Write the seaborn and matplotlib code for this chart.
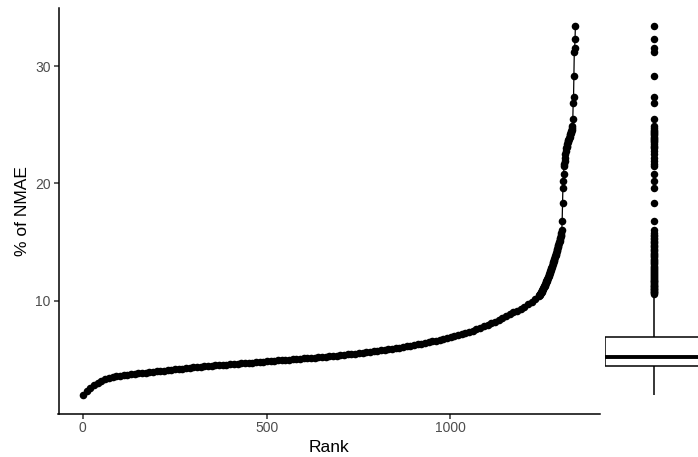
import numpy as np
import pandas as pd
import matplotlib
matplotlib.use("Agg")
import matplotlib.pyplot as plt
import seaborn as sns

# ---- data ----
# bulk of the ranked curve: one reading every 10 ranks (ranks 1, 11, ..., 1231)
bulk_first_rank = 1
bulk_step = 10
bulk_values = [
    1.93, 2.30, 2.55, 2.78, 2.98, 3.15, 3.30, 3.42, 3.50, 3.56,
    3.61, 3.65, 3.69, 3.72, 3.76, 3.80, 3.83, 3.87, 3.90, 3.94,
    3.97, 4.00, 4.04, 4.07, 4.11, 4.14, 4.17, 4.21, 4.24, 4.27,
    4.30, 4.33, 4.37, 4.40, 4.42, 4.45, 4.47, 4.50, 4.52, 4.55,
    4.57, 4.60, 4.62, 4.65, 4.67, 4.70, 4.72, 4.75, 4.77, 4.80,
    4.82, 4.85, 4.87, 4.90, 4.92, 4.95, 4.97, 5.00, 5.02, 5.05,
    5.07, 5.10, 5.12, 5.15, 5.17, 5.20, 5.22, 5.25, 5.28, 5.31,
    5.34, 5.37, 5.41, 5.45, 5.49, 5.53, 5.57, 5.61, 5.65, 5.69,
    5.73, 5.77, 5.82, 5.86, 5.91, 5.95, 6.00, 6.05, 6.10, 6.15,
    6.21, 6.27, 6.33, 6.39, 6.46, 6.53, 6.60, 6.67, 6.74, 6.81,
    6.88, 6.96, 7.05, 7.14, 7.24, 7.34, 7.45, 7.56, 7.68, 7.80,
    7.93, 8.07, 8.21, 8.36, 8.52, 8.68, 8.84, 9.00, 9.15, 9.32,
    9.50, 9.70, 9.92, 10.16,
]
# upper tail: every single observation (ranks 1241 ... 1340)
tail_first_rank = 1241
tail_values = [
    10.40, 10.45, 10.50, 10.56, 10.61, 10.67, 10.72, 10.78, 10.84, 10.90,
    10.96, 11.02, 11.09, 11.15, 11.22, 11.29, 11.36, 11.43, 11.50, 11.57,
    11.65, 11.72, 11.80, 11.88, 11.95, 12.03, 12.12, 12.20, 12.28, 12.37,
    12.45, 12.54, 12.63, 12.72, 12.81, 12.90, 13.00, 13.09, 13.19, 13.29,
    13.38, 13.48, 13.58, 13.69, 13.79, 13.90, 14.00, 14.11, 14.22, 14.33,
    14.44, 14.55, 14.66, 14.78, 14.89, 15.01, 15.13, 15.25, 15.37, 15.49,
    15.61, 15.74,
    16.0, 16.8, 18.3, 19.6, 20.2, 20.8,
    21.5, 21.7, 21.9, 22.2, 22.5, 22.8,
    23.0, 23.1, 23.2, 23.35, 23.5, 23.6, 23.7, 23.8, 23.9, 24.0,
    24.1, 24.2, 24.3, 24.4, 24.5, 24.6, 24.75, 24.9,
    25.5, 26.9, 27.4, 29.2, 31.2, 31.6, 32.3, 33.4,
]
x_ticks = [0, 500, 1000]
y_ticks = [10, 20, 30]
x_label = "Rank"
y_label = "% of NMAE"

# ---- assemble ----
bulk_ranks = bulk_first_rank + bulk_step * np.arange(len(bulk_values))
tail_ranks = tail_first_rank + np.arange(len(tail_values))
df = pd.DataFrame({
    "rank": np.concatenate([bulk_ranks, tail_ranks]),
    "nmae": np.concatenate([bulk_values, tail_values]),
})
# each bulk reading stands for bulk_step observations in the distribution
counts = np.concatenate([np.full(len(bulk_values), bulk_step), np.ones(len(tail_values), int)])
dist = pd.DataFrame({"nmae": np.repeat(df["nmae"].to_numpy(), counts)})

sns.set_theme(style="white")
plt.rcParams["font.family"] = ["Liberation Sans", "DejaVu Sans"]

W, H = 698, 457
fig = plt.figure(figsize=(W / 100, H / 100), dpi=100)
ax_l, ax_r, ax_t, ax_b = 58.5, 600, 8, 413.7
ax = fig.add_axes([ax_l / W, (H - ax_b) / H, (ax_r - ax_l) / W, (ax_b - ax_t) / H])
axb = fig.add_axes([605 / W, (H - ax_b) / H, 93 / W, (ax_b - ax_t) / H])

sns.lineplot(data=df, x="rank", y="nmae", color="black", linewidth=0.9,
             estimator=None, ax=ax)
sns.scatterplot(data=df, x="rank", y="nmae", color="black", s=30,
                linewidth=0, ax=ax, zorder=3)

n_max = df["rank"].max()
xr = n_max - 1
ax.set_xlim(1 - 0.05 * xr, n_max + 0.05 * xr)
ymin, ymax = df["nmae"].min(), df["nmae"].max()
yr = ymax - ymin
ylim = (ymin - 0.05 * yr, ymax + 0.05 * yr)
ax.set_ylim(*ylim)
ax.set_xticks(x_ticks)
ax.set_yticks(y_ticks)
ax.set_xlabel(x_label, fontsize=12.5, color="black", labelpad=3)
ax.set_ylabel(y_label, fontsize=12.5, color="black", labelpad=4)
for s in ["top", "right"]:
    ax.spines[s].set_visible(False)
for s in ["left", "bottom"]:
    ax.spines[s].set_color("black")
    ax.spines[s].set_linewidth(1.1)
ax.tick_params(axis="both", which="major", length=3.4, width=1.1, color="#333333",
               labelsize=10, labelcolor="#4d4d4d", pad=2.2, bottom=True, left=True)

sns.boxplot(data=dist, y="nmae", ax=axb, color="white", linecolor="black",
            linewidth=1.1, width=1.0, showcaps=False, whis=1.5,
            medianprops={"linewidth": 2.8, "color": "black"},
            flierprops={"marker": "o", "markerfacecolor": "black",
                        "markeredgecolor": "black", "markersize": 5.4,
                        "markeredgewidth": 0})
axb.set_ylim(*ylim)
axb.set_xlim(-0.5, 0.45)
axb.axis("off")

fig.savefig("out.png", dpi=100)
